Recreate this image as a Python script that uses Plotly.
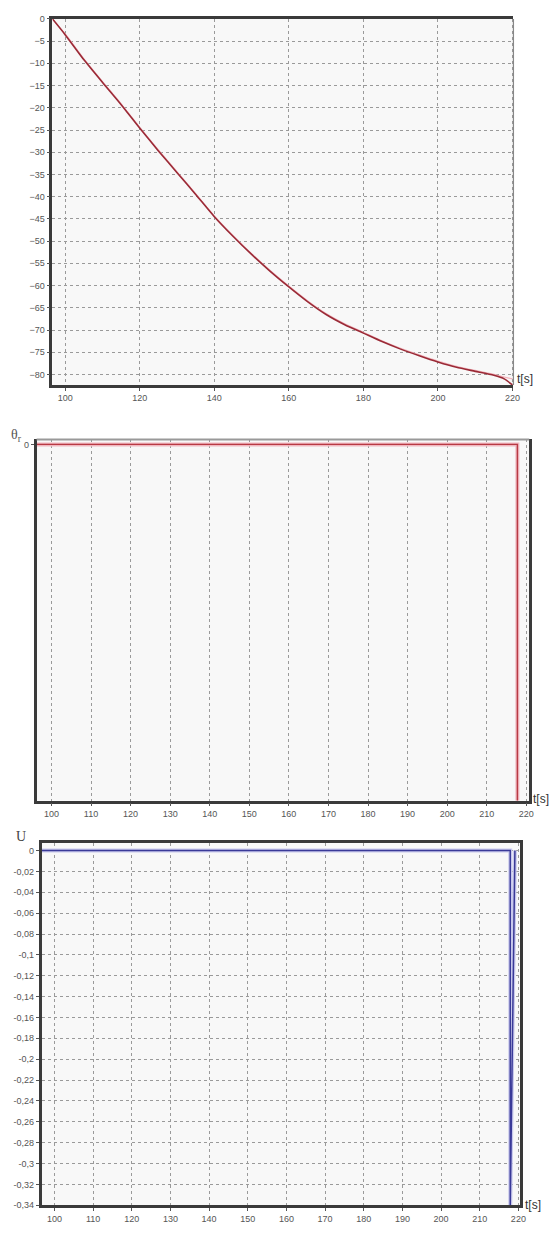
import plotly.graph_objects as go

# ---- data ----
t1 = [96.55, 100, 105, 110, 115, 120, 125, 130, 135, 140, 145, 150, 155, 160,
      165, 170, 175, 180, 185, 190, 195, 200, 205, 210, 215, 217.8, 220]
psi1 = [0, -3.6, -9.2, -14.3, -19.3, -24.6, -29.7, -34.6, -39.5, -44.5, -48.9,
        -53.0, -56.8, -60.3, -63.6, -66.5, -68.8, -70.7, -72.6, -74.3, -75.8,
        -77.2, -78.4, -79.3, -80.2, -81.0, -82.35]
psi1_ref = [0, -3.4, -9.0, -14.1, -19.1, -24.4, -29.5, -34.4, -39.3, -44.3, -48.7,
            -52.8, -56.6, -60.1, -63.4, -66.3, -68.6, -70.5, -72.4, -74.1, -75.6,
            -77.0, -78.2, -79.1, -80.0, -80.6, -81.0]

t2 = [96.25, 217.75, 217.75]
theta2 = [0, 0, -1.2]

t3 = [96.67, 217.9, 217.9, 219.1]
u3 = [0, 0, -0.34, 0]

y1_ticks = [0, -5, -10, -15, -20, -25, -30, -35, -40, -45, -50, -55, -60, -65, -70, -75, -80]
x1_ticks = [100, 120, 140, 160, 180, 200, 220]
x23_ticks = [100, 110, 120, 130, 140, 150, 160, 170, 180, 190, 200, 210, 220]
y3_ticks = [0, -0.02, -0.04, -0.06, -0.08, -0.1, -0.12, -0.14, -0.16, -0.18, -0.2,
            -0.22, -0.24, -0.26, -0.28, -0.3, -0.32, -0.34]
y3_text = ["0" if v == 0 else ("%g" % v).replace(".", ",") for v in y3_ticks]

W, H = 560, 1236

def dx(a, b):
    return [a / W, b / W]

def dy(top, bottom):
    return [1 - bottom / H, 1 - top / H]

fig = go.Figure()

# panel 1
fig.add_trace(go.Scatter(x=t1, y=psi1_ref, mode="lines", xaxis="x", yaxis="y",
                         line=dict(color="#f2b4bc", width=1.2, shape="spline", smoothing=0.8),
                         showlegend=False))
fig.add_trace(go.Scatter(x=t1, y=psi1, mode="lines", xaxis="x", yaxis="y",
                         line=dict(color="#9a2a36", width=1.6, shape="spline", smoothing=0.6),
                         showlegend=False))
# panel 2
fig.add_trace(go.Scatter(x=t2, y=theta2, mode="lines", xaxis="x2", yaxis="y2",
                         line=dict(color="#f0b8c0", width=4), showlegend=False))
fig.add_trace(go.Scatter(x=t2, y=theta2, mode="lines", xaxis="x2", yaxis="y2",
                         line=dict(color="#b83a44", width=1.4), showlegend=False))
# panel 3
fig.add_trace(go.Scatter(x=t3, y=u3, mode="lines", xaxis="x3", yaxis="y3",
                         line=dict(color="#c8c8ec", width=4), showlegend=False))
fig.add_trace(go.Scatter(x=t3, y=u3, mode="lines", xaxis="x3", yaxis="y3",
                         line=dict(color="#3a3a98", width=1.5), showlegend=False))

tickfont = dict(family="Liberation Sans, Arial, sans-serif", size=9, color="#555")
grid = dict(showgrid=True, gridcolor="#9a9a9a", gridwidth=1, griddash="3px,3px")
axline = dict(showline=True, linecolor="#3a3a3a", linewidth=2.5,
              ticks="outside", ticklen=3, tickcolor="#555", zeroline=False,
              tickfont=tickfont)

fig.update_layout(
    width=W, height=H,
    margin=dict(l=0, r=0, t=0, b=0),
    paper_bgcolor="white",
    plot_bgcolor="#f8f8f8",
    showlegend=False,
    xaxis=dict(domain=dx(53, 519), range=[96.55, 220.27], anchor="y",
               tickvals=x1_ticks, mirror=True, **grid, **axline),
    yaxis=dict(domain=dy(14, 383), range=[-82.35, 0], anchor="x",
               tickvals=y1_ticks, mirror=False, **grid, **axline),
    xaxis2=dict(domain=dx(37, 535), range=[96.25, 220.75], anchor="y2",
                tickvals=x23_ticks, mirror=False, **grid, **axline),
    yaxis2=dict(domain=dy(438, 802), range=[-1, 5 / 359], anchor="x2",
                tickvals=[0], mirror=True, showgrid=False, **axline),
    xaxis3=dict(domain=dx(42, 526), range=[96.67, 220.51], anchor="y3",
                tickvals=x23_ticks, mirror=True, **grid, **axline),
    yaxis3=dict(domain=dy(845, 1210), range=[-0.34, 0.00713], anchor="x3",
                tickvals=y3_ticks, ticktext=y3_text, mirror=True, **grid, **axline),
)

# thin right border of panel 1, thin top border of panel 2
fig.add_shape(type="line", xref="x domain", yref="y domain", x0=1, x1=1, y0=0, y1=1,
              line=dict(color="#888", width=1.2))
fig.add_shape(type="line", xref="x2 domain", yref="y2 domain", x0=0, x1=1, y0=1, y1=1,
              line=dict(color="#999", width=2))

lab = dict(family="Liberation Sans, Arial, sans-serif", size=12, color="#333")
fig.add_annotation(text="t[s]", xref="paper", yref="paper", x=521 / W, y=1 - 377 / H,
                   xanchor="left", yanchor="middle", showarrow=False, font=lab)
fig.add_annotation(text="t[s]", xref="paper", yref="paper", x=537 / W, y=1 - 800 / H,
                   xanchor="left", yanchor="middle", showarrow=False, font=lab)
fig.add_annotation(text="t[s]", xref="paper", yref="paper", x=529 / W, y=1 - 1210 / H,
                   xanchor="left", yanchor="middle", showarrow=False, font=lab)
fig.add_annotation(text="θ<sub>r</sub>", xref="paper", yref="paper", x=9 / W, y=1 - 434 / H,
                   xanchor="left", yanchor="middle", showarrow=False,
                   font=dict(family="Liberation Serif, serif", size=14, color="#555"))
fig.add_annotation(text="U", xref="paper", yref="paper", x=14 / W, y=1 - 838 / H,
                   xanchor="left", yanchor="middle", showarrow=False,
                   font=dict(family="Liberation Serif, serif", size=14, color="#444"))

fig.write_html("out.html")
